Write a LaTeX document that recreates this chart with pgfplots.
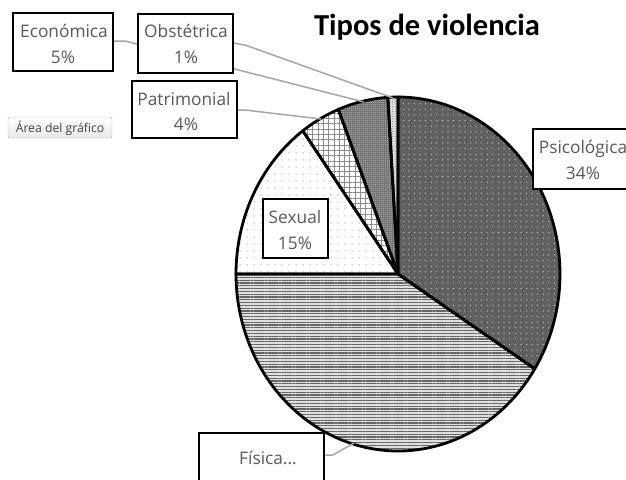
\documentclass[border=0pt]{standalone}
\usepackage{fontspec}
\setmainfont{Open Sans}
\newfontfamily\titlefont{Carlito}
\usepackage{pgfplots}
\pgfplotsset{compat=1.18}
\usetikzlibrary{patterns,patterns.meta}
\definecolor{lbl}{HTML}{595959}
\definecolor{lead}{HTML}{A6A6A6}
\definecolor{psico}{HTML}{606060}
\begin{document}
\begin{tikzpicture}
\path[use as bounding box] (0,0) rectangle (626pt,479pt);
\clip (0,0) rectangle (626pt,479pt);
\begin{axis}[at={(0,0)}, anchor=south west, width=626pt, height=479pt,
  scale only axis, xmin=0, xmax=626, ymin=0, ymax=479, y dir=reverse,
  hide axis, clip=false]
% slices: Psicologica 34, Fisica 41, Sexual 15, Patrimonial 4, Economica 5, Obstetrica 1 (%)
% fills
\addplot[draw=none, fill=psico, postaction={pattern={Dots[radius=0.6pt,distance=5.6pt]}, pattern color=white!85!black}, domain=-32.4:90, samples=90]
  ({398+162*cos(x)},{274-177*sin(x)}) -- (398,274) -- cycle;
\addplot[draw=none, fill=gray!25, postaction={pattern={Lines[angle=0,distance=2.8pt,line width=1.2pt]}, pattern color=black!60}, domain=-180:-32.4, samples=100]
  ({398+162*cos(x)},{274-177*sin(x)}) -- (398,274) -- cycle;
\addplot[draw=none, fill=white, postaction={pattern={Dots[radius=0.6pt,distance=6.5pt]}, pattern color=black!55}, domain=126:180, samples=50]
  ({398+162*cos(x)},{274-177*sin(x)}) -- (398,274) -- cycle;
\addplot[draw=none, fill=white, postaction={pattern={Hatch[angle=0,distance=5.3pt,line width=0.8pt]}, pattern color=black!45}, domain=111.6:126, samples=20]
  ({398+162*cos(x)},{274-177*sin(x)}) -- (398,274) -- cycle;
\addplot[draw=none, fill=black!35, postaction={pattern={Hatch[angle=0,distance=2pt,line width=0.6pt]}, pattern color=black!55}, domain=93.6:111.6, samples=20]
  ({398+162*cos(x)},{274-177*sin(x)}) -- (398,274) -- cycle;
\addplot[draw=none, fill=gray!25, postaction={pattern={Dots[radius=0.5pt,distance=2.5pt]}, pattern color=black!50}, domain=90:93.6, samples=6]
  ({398+162*cos(x)},{274-177*sin(x)}) -- (398,274) -- cycle;
% outlines
\addplot[draw=black, line width=2.8pt, line join=round, domain=-32.4:90, samples=90]
  ({398+162*cos(x)},{274-177*sin(x)}) -- (398,274) -- cycle;
\addplot[draw=black, line width=2.8pt, line join=round, domain=-180:-32.4, samples=100]
  ({398+162*cos(x)},{274-177*sin(x)}) -- (398,274) -- cycle;
\addplot[draw=black, line width=2.8pt, line join=round, domain=126:180, samples=50]
  ({398+162*cos(x)},{274-177*sin(x)}) -- (398,274) -- cycle;
\addplot[draw=black, line width=2.8pt, line join=round, domain=111.6:126, samples=20]
  ({398+162*cos(x)},{274-177*sin(x)}) -- (398,274) -- cycle;
\addplot[draw=black, line width=2.8pt, line join=round, domain=93.6:111.6, samples=20]
  ({398+162*cos(x)},{274-177*sin(x)}) -- (398,274) -- cycle;
\addplot[draw=black, line width=2.8pt, line join=round, domain=90:93.6, samples=6]
  ({398+162*cos(x)},{274-177*sin(x)}) -- (398,274) -- cycle;
% leader lines
\draw[lead, line width=1.5pt] (113,41) -- (125,41) -- (364,102);
\draw[lead, line width=1.5pt] (233,43) -- (245,45) -- (393,98);
\draw[lead, line width=1.5pt] (237,110) -- (245,110) -- (321,119);
\draw[lead, line width=1.5pt] (324,455) -- (333,455) -- (354,443);
% label boxes
\draw[line width=2pt, fill=white] (13,13) rectangle (113,71);
\draw[line width=2pt, fill=white] (138,14) rectangle (233,73);
\draw[line width=2pt, fill=white] (132,81) rectangle (237,138);
\draw[line width=2pt, fill=white] (263,199) rectangle (328,258);
\draw[line width=2pt, fill=white] (533,129) rectangle (645,189);
\draw[line width=2pt, fill=white] (199,433) rectangle (324,500);
\tikzset{lt/.style={anchor=base, text=lbl, inner sep=0pt, font=\fontsize{17.3}{20}\selectfont}}
\node[lt] at (64,37) {Económica};
\node[lt] at (63,63) {5\%};
\node[lt] at (186,37) {Obstétrica};
\node[lt] at (186,63) {1\%};
\node[lt] at (184,105) {Patrimonial};
\node[lt] at (186,130) {4\%};
\node[lt] at (295,223) {Sexual};
\node[lt] at (295,249) {15\%};
\node[lt] at (583,153) {Psicológica};
\node[lt] at (583,179) {34\%};
\node[lt] at (268,464) {Física...};
% button
\draw[rounded corners=2pt, draw=gray!70, top color=white, bottom color=gray!18] (8,117) rectangle (112,138);
\node[anchor=base, text=black!75, inner sep=0pt, font=\fontsize{12.2}{14}\selectfont] at (60,132) {Área del gráfico};
% title
\node[anchor=base, inner sep=0pt, font=\titlefont\bfseries\fontsize{30.5}{36}\selectfont] at (427,35) {Tipos de violencia};
\end{axis}
\end{tikzpicture}
\end{document}
